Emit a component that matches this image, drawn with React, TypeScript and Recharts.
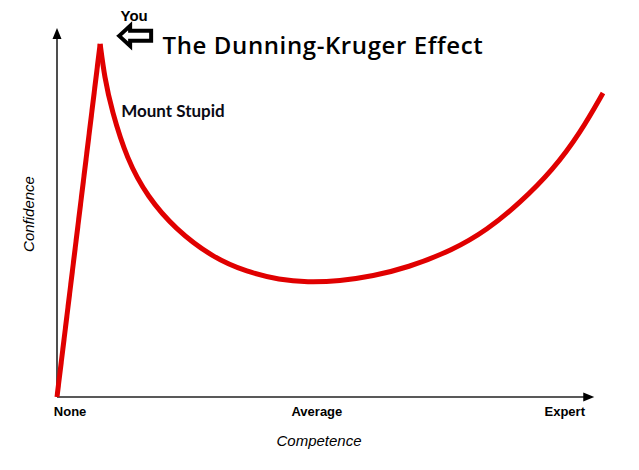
import { LineChart, Line, XAxis, YAxis, ReferenceLine, ReferenceDot, Customized } from 'recharts'

// competence (0-100) vs confidence (0-100)
const ascent = [
  { x: 0, y: 0 },
  { x: 7.9, y: 95.7 },
]

const descentAndRecovery = [
  { x: 7.9, y: 95.7 },
  { x: 8.7, y: 86.7 },
  { x: 10.0, y: 77.8 },
  { x: 12.8, y: 64.4 },
  { x: 16.6, y: 54.2 },
  { x: 21.6, y: 45.6 },
  { x: 28.6, y: 37.7 },
  { x: 34.8, y: 33.9 },
  { x: 40.8, y: 31.7 },
  { x: 45.8, y: 31.1 },
  { x: 51.8, y: 31.4 },
  { x: 57.9, y: 32.8 },
  { x: 64.1, y: 35.0 },
  { x: 72.5, y: 39.8 },
  { x: 78.8, y: 45.3 },
  { x: 84.8, y: 52.6 },
  { x: 90.8, y: 61.5 },
  { x: 95.8, y: 71.5 },
  { x: 100, y: 82.4 },
]

const tickValues = [2.4, 47.6, 93]
const tickLabels = ['None', 'Average', 'Expert']

const peak = { x: 7.9, y: 95.7 }
const xAxisEnd = 98.4

const RED = '#e00000'
const AXIS = '#222'

function ArrowLine(props: any) {
  const { x1, y1, x2, y2 } = props
  const dx = x2 - x1
  const dy = y2 - y1
  const len = Math.hypot(dx, dy) || 1
  const ux = dx / len
  const uy = dy / len
  const hl = 11
  const hw = 4.5
  const bx = x2 - ux * hl
  const by = y2 - uy * hl
  return (
    <g>
      <line x1={x1} y1={y1} x2={bx + ux * 2} y2={by + uy * 2} stroke={AXIS} strokeWidth={1.6} />
      <polygon
        points={`${x2},${y2} ${bx - uy * hw},${by + ux * hw} ${bx + uy * hw},${by - ux * hw}`}
        fill="#000"
      />
    </g>
  )
}

function PeakNotes(props: any) {
  const { cx, cy } = props
  const arrow = [
    [19, -8],
    [30, -18],
    [30, -13],
    [51, -13],
    [51, -3],
    [30, -3],
    [30, 2],
  ]
    .map(([a, b]) => `${cx + a},${cy + b}`)
    .join(' ')
  return (
    <g>
      <polygon points={arrow} fill="#fff" stroke="#000" strokeWidth={4} strokeLinejoin="miter" />
      <text
        x={cx + 34}
        y={cy - 23}
        textAnchor="middle"
        fontFamily="Liberation Sans, Arial, sans-serif"
        fontWeight="bold"
        fontSize={15}
        fill="#000"
      >
        You
      </text>
      <text
        x={cx + 21}
        y={cy + 73}
        fontFamily="Lato, sans-serif"
        fontWeight="bold"
        fontSize={17}
        fill="#0a0a14"
      >
        Mount Stupid
      </text>
    </g>
  )
}

function Titles() {
  return (
    <g>
      <text
        x={323}
        y={54}
        textAnchor="middle"
        fontFamily="Open Sans, sans-serif"
        fontWeight={600}
        fontSize={24}
        letterSpacing={0.6}
        fill="#000"
      >
        The Dunning-Kruger Effect
      </text>
      <text
        x={319}
        y={446}
        textAnchor="middle"
        fontFamily="Liberation Sans, Arial, sans-serif"
        fontStyle="italic"
        fontSize={15}
        fill="#000"
      >
        Competence
      </text>
      <text
        x={28}
        y={214}
        transform="rotate(-90 28 214)"
        textAnchor="middle"
        dominantBaseline="central"
        fontFamily="Liberation Sans, Arial, sans-serif"
        fontStyle="italic"
        fontSize={15}
        fill="#000"
      >
        Confidence
      </text>
    </g>
  )
}

export default function App() {
  return (
    <div style={{ position: 'absolute', left: 0, top: 0, width: 639, height: 470, background: '#fff' }}>
      <LineChart width={639} height={470} margin={{ top: 28, right: 36, bottom: 43, left: 57 }}>
        <XAxis
          type="number"
          dataKey="x"
          domain={[0, 100]}
          ticks={tickValues}
          tickFormatter={(v: number) => tickLabels[tickValues.indexOf(v)] ?? ''}
          axisLine={false}
          tickLine={false}
          tickSize={0}
          tickMargin={10}
          height={30}
          interval={0}
          tick={{ fill: '#000', fontSize: 13, fontWeight: 'bold', fontFamily: 'Liberation Sans, Arial, sans-serif' }}
        />
        <YAxis type="number" dataKey="y" domain={[0, 100]} hide />
        <ReferenceLine segment={[{ x: 0, y: 0 }, { x: xAxisEnd, y: 0 }]} shape={ArrowLine} />
        <ReferenceLine segment={[{ x: 0, y: 0 }, { x: 0, y: 100 }]} shape={ArrowLine} />
        <Line
          data={ascent}
          dataKey="y"
          type="linear"
          stroke={RED}
          strokeWidth={5}
          dot={false}
          isAnimationActive={false}
        />
        <Line
          data={descentAndRecovery}
          dataKey="y"
          type="basis"
          stroke={RED}
          strokeWidth={5}
          dot={false}
          isAnimationActive={false}
        />
        <ReferenceDot x={peak.x} y={peak.y} r={0} shape={PeakNotes} />
        <Customized component={Titles} />
      </LineChart>
    </div>
  )
}
